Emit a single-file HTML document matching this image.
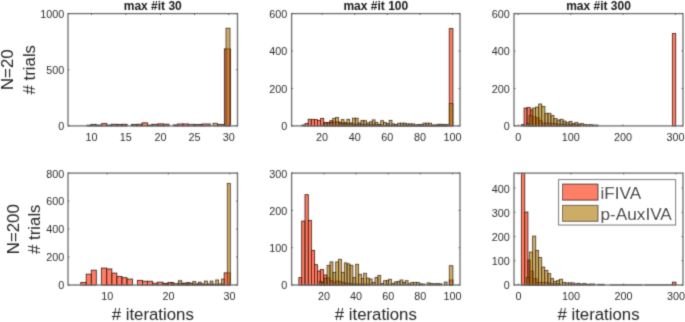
<!DOCTYPE html>
<html><head><meta charset="utf-8"><style>
html,body{margin:0;padding:0;background:#fff;width:685px;height:322px;overflow:hidden}
svg{display:block;will-change:transform}
text{font-family:"Liberation Sans", sans-serif;fill:#2c2c2c}
.tl{font-size:10.8px}
.ti{font-size:12px;font-weight:bold;fill:#1a1a1a}
.lb{font-size:16.8px;fill:#262626}
.lt{font-size:17.2px;fill:#262626}
.r{fill:rgb(255,42,0);fill-opacity:0.6;stroke:#2a1c14;stroke-width:0.85}
.y{fill:rgb(172,118,0);fill-opacity:0.6;stroke:#2a1c14;stroke-width:0.85;stroke-opacity:0.85}
.ax{fill:none;stroke:#6e6e6e;stroke-width:1.3}
.tk{fill:none;stroke:#444;stroke-width:0.8}
.lg{fill:#fff;stroke:#6e6e6e;stroke-width:1}
</style></head><body>
<svg width="685" height="322" viewBox="0 0 685 322">
<defs><filter id="bl" x="0" y="0" width="685" height="322" filterUnits="userSpaceOnUse"><feConvolveMatrix order="3" kernelMatrix="0.0225 0.1050 0.0225 0.1050 0.4900 0.1050 0.0225 0.1050 0.0225" edgeMode="duplicate"/></filter></defs>
<rect width="685" height="322" fill="#fff"/>
<g filter="url(#bl)">
<rect x="87" y="125.2" width="4" height="0.7" class="r"/>
<rect x="91" y="124.4" width="5" height="1.5" class="r"/>
<rect x="96" y="125" width="5.7" height="0.9" class="r"/>
<rect x="101.7" y="123.6" width="5" height="2.3" class="r"/>
<rect x="106.7" y="125" width="4.7" height="0.9" class="r"/>
<rect x="111.4" y="124.3" width="5.6" height="1.6" class="r"/>
<rect x="117" y="124.5" width="5" height="1.4" class="r"/>
<rect x="122" y="124.3" width="5.1" height="1.6" class="r"/>
<rect x="131.4" y="124.4" width="5.6" height="1.5" class="r"/>
<rect x="137" y="124.3" width="5" height="1.6" class="r"/>
<rect x="142" y="122.9" width="5.5" height="3" class="r"/>
<rect x="147.5" y="125" width="4.5" height="0.9" class="r"/>
<rect x="152" y="124.3" width="6" height="1.6" class="r"/>
<rect x="158" y="123.9" width="5.3" height="2" class="r"/>
<rect x="163.3" y="124.2" width="5.7" height="1.7" class="r"/>
<rect x="173.3" y="124.9" width="4.3" height="1" class="r"/>
<rect x="177.6" y="124" width="5.4" height="1.9" class="r"/>
<rect x="183" y="124" width="5.3" height="1.9" class="r"/>
<rect x="194" y="124.5" width="8" height="1.4" class="r"/>
<rect x="202" y="124" width="8.3" height="1.9" class="r"/>
<rect x="217.4" y="124.4" width="6.8" height="1.5" class="r"/>
<rect x="224.4" y="48.9" width="6" height="77" class="r"/>
<rect x="188.3" y="124.3" width="5.7" height="1.6" class="y"/>
<rect x="213" y="123.3" width="4.4" height="2.6" class="y"/>
<rect x="226" y="28.2" width="4" height="97.7" class="y"/>
<rect x="68" y="13.6" width="169.5" height="112.3" class="ax"/>
<path d="M91.5 125.9v-1.4M91.5 13.6v1.4" class="tk"/>
<path d="M125.8 125.9v-1.4M125.8 13.6v1.4" class="tk"/>
<path d="M160.5 125.9v-1.4M160.5 13.6v1.4" class="tk"/>
<path d="M194.5 125.9v-1.4M194.5 13.6v1.4" class="tk"/>
<path d="M228.7 125.9v-1.4M228.7 13.6v1.4" class="tk"/>
<path d="M68 125.9h1.4M237.5 125.9h-1.4" class="tk"/>
<path d="M68 69.75h1.4M237.5 69.75h-1.4" class="tk"/>
<path d="M68 13.6h1.4M237.5 13.6h-1.4" class="tk"/>
<text x="91.5" y="140.5" class="tl" text-anchor="middle">10</text>
<text x="125.8" y="140.5" class="tl" text-anchor="middle">15</text>
<text x="160.5" y="140.5" class="tl" text-anchor="middle">20</text>
<text x="194.5" y="140.5" class="tl" text-anchor="middle">25</text>
<text x="228.7" y="140.5" class="tl" text-anchor="middle">30</text>
<text x="64.3" y="130.3" class="tl" text-anchor="end">0</text>
<text x="64.3" y="74.15" class="tl" text-anchor="end">500</text>
<text x="64.3" y="18" class="tl" text-anchor="end">1000</text>
<rect x="302" y="125" width="3.1" height="0.9" class="r"/>
<rect x="305.1" y="123.6" width="3.1" height="2.3" class="r"/>
<rect x="308.2" y="119.3" width="3.1" height="6.6" class="r"/>
<rect x="311.3" y="119.6" width="3.1" height="6.3" class="r"/>
<rect x="314.4" y="119.6" width="3.1" height="6.3" class="r"/>
<rect x="317.5" y="120.6" width="3.1" height="5.3" class="r"/>
<rect x="320.6" y="118.4" width="3.1" height="7.5" class="r"/>
<rect x="323.7" y="122.5" width="3.1" height="3.4" class="r"/>
<rect x="326.8" y="122.5" width="3.1" height="3.4" class="r"/>
<rect x="329.9" y="120.7" width="3.1" height="5.2" class="r"/>
<rect x="333" y="121.8" width="3.1" height="4.1" class="r"/>
<rect x="336.1" y="121.8" width="3.1" height="4.1" class="r"/>
<rect x="339.2" y="122.7" width="3.1" height="3.2" class="r"/>
<rect x="342.3" y="123.6" width="3.1" height="2.3" class="r"/>
<rect x="345.4" y="123.6" width="3.1" height="2.3" class="r"/>
<rect x="348.5" y="123.8" width="3.1" height="2.1" class="r"/>
<rect x="351.6" y="124" width="3.1" height="1.9" class="r"/>
<rect x="354.7" y="124.3" width="3.1" height="1.6" class="r"/>
<rect x="357.8" y="124.3" width="3.1" height="1.6" class="r"/>
<rect x="360.9" y="124.5" width="3.1" height="1.4" class="r"/>
<rect x="364" y="124.5" width="3.1" height="1.4" class="r"/>
<rect x="367.1" y="124.6" width="3.1" height="1.3" class="r"/>
<rect x="370.2" y="124.8" width="3.1" height="1.1" class="r"/>
<rect x="373.3" y="124.8" width="3.1" height="1.1" class="r"/>
<rect x="376.4" y="125" width="3.1" height="0.9" class="r"/>
<rect x="379.5" y="125" width="3.1" height="0.9" class="r"/>
<rect x="382.6" y="125.3" width="3.1" height="0.6" class="r"/>
<rect x="385.7" y="125.3" width="3.1" height="0.6" class="r"/>
<rect x="388.8" y="125.3" width="3.1" height="0.6" class="r"/>
<rect x="391.9" y="125.3" width="3.1" height="0.6" class="r"/>
<rect x="395" y="125.3" width="3.1" height="0.6" class="r"/>
<rect x="398.1" y="125.3" width="3.1" height="0.6" class="r"/>
<rect x="401.2" y="125.3" width="3.1" height="0.6" class="r"/>
<rect x="404.3" y="125.3" width="3.1" height="0.6" class="r"/>
<rect x="407.4" y="125.3" width="3.1" height="0.6" class="r"/>
<rect x="410.5" y="125.3" width="3.1" height="0.6" class="r"/>
<rect x="413.6" y="125.3" width="3.1" height="0.6" class="r"/>
<rect x="416.7" y="125.3" width="3.1" height="0.6" class="r"/>
<rect x="419.8" y="125.3" width="3.1" height="0.6" class="r"/>
<rect x="422.9" y="125.3" width="3.1" height="0.6" class="r"/>
<rect x="426" y="125.3" width="3.1" height="0.6" class="r"/>
<rect x="429.1" y="125.3" width="3.1" height="0.6" class="r"/>
<rect x="432.2" y="125.3" width="3.1" height="0.6" class="r"/>
<rect x="435.3" y="125.3" width="3.1" height="0.6" class="r"/>
<rect x="438.4" y="125.3" width="3.1" height="0.6" class="r"/>
<rect x="441.5" y="125.3" width="3.1" height="0.6" class="r"/>
<rect x="444.6" y="125.3" width="3.1" height="0.6" class="r"/>
<rect x="449.3" y="28.6" width="3.6" height="97.3" class="r"/>
<rect x="324.3" y="122.6" width="2.82" height="3.3" class="y"/>
<rect x="327.12" y="122.6" width="2.82" height="3.3" class="y"/>
<rect x="329.94" y="122.5" width="2.82" height="3.4" class="y"/>
<rect x="332.76" y="118.4" width="2.82" height="7.5" class="y"/>
<rect x="335.58" y="117.5" width="2.82" height="8.4" class="y"/>
<rect x="338.4" y="122.4" width="2.82" height="3.5" class="y"/>
<rect x="341.22" y="119.6" width="2.82" height="6.3" class="y"/>
<rect x="344.04" y="122.5" width="2.82" height="3.4" class="y"/>
<rect x="346.86" y="119.3" width="2.82" height="6.6" class="y"/>
<rect x="349.68" y="122.9" width="2.82" height="3" class="y"/>
<rect x="352.5" y="118.2" width="2.82" height="7.7" class="y"/>
<rect x="355.32" y="118.2" width="2.82" height="7.7" class="y"/>
<rect x="358.14" y="122.9" width="2.82" height="3" class="y"/>
<rect x="360.96" y="120.4" width="2.82" height="5.5" class="y"/>
<rect x="363.78" y="120.7" width="2.82" height="5.2" class="y"/>
<rect x="366.6" y="122.9" width="2.82" height="3" class="y"/>
<rect x="369.42" y="121.8" width="2.82" height="4.1" class="y"/>
<rect x="372.24" y="119.9" width="2.82" height="6" class="y"/>
<rect x="375.06" y="122.5" width="2.82" height="3.4" class="y"/>
<rect x="377.88" y="124.3" width="2.82" height="1.6" class="y"/>
<rect x="380.7" y="120.7" width="2.82" height="5.2" class="y"/>
<rect x="383.52" y="122.5" width="2.82" height="3.4" class="y"/>
<rect x="386.34" y="123.6" width="2.82" height="2.3" class="y"/>
<rect x="389.16" y="120.4" width="2.82" height="5.5" class="y"/>
<rect x="391.98" y="123.9" width="2.82" height="2" class="y"/>
<rect x="394.8" y="124.6" width="2.82" height="1.3" class="y"/>
<rect x="397.62" y="123.2" width="2.82" height="2.7" class="y"/>
<rect x="400.44" y="123.2" width="2.82" height="2.7" class="y"/>
<rect x="403.26" y="123.2" width="2.82" height="2.7" class="y"/>
<rect x="406.08" y="123.9" width="2.82" height="2" class="y"/>
<rect x="408.9" y="123.9" width="2.82" height="2" class="y"/>
<rect x="411.72" y="123.9" width="2.82" height="2" class="y"/>
<rect x="414.54" y="124.9" width="2.82" height="1" class="y"/>
<rect x="417.36" y="124.6" width="2.82" height="1.3" class="y"/>
<rect x="420.18" y="124.6" width="2.82" height="1.3" class="y"/>
<rect x="423" y="123.2" width="2.82" height="2.7" class="y"/>
<rect x="425.82" y="123.2" width="2.82" height="2.7" class="y"/>
<rect x="428.64" y="123.2" width="2.82" height="2.7" class="y"/>
<rect x="431.46" y="125" width="2.82" height="0.9" class="y"/>
<rect x="434.28" y="125" width="2.82" height="0.9" class="y"/>
<rect x="437.1" y="124.3" width="2.82" height="1.6" class="y"/>
<rect x="439.92" y="124.3" width="2.82" height="1.6" class="y"/>
<rect x="442.74" y="124.6" width="2.82" height="1.3" class="y"/>
<rect x="445.56" y="124.6" width="2.82" height="1.3" class="y"/>
<rect x="449.3" y="103.6" width="3.6" height="22.3" class="y"/>
<rect x="291.6" y="13.6" width="168.4" height="112.3" class="ax"/>
<path d="M322 125.9v-1.4M322 13.6v1.4" class="tk"/>
<path d="M354.65 125.9v-1.4M354.65 13.6v1.4" class="tk"/>
<path d="M387.3 125.9v-1.4M387.3 13.6v1.4" class="tk"/>
<path d="M419.95 125.9v-1.4M419.95 13.6v1.4" class="tk"/>
<path d="M452.6 125.9v-1.4M452.6 13.6v1.4" class="tk"/>
<path d="M291.6 125.9h1.4M460 125.9h-1.4" class="tk"/>
<path d="M291.6 88.47h1.4M460 88.47h-1.4" class="tk"/>
<path d="M291.6 51.03h1.4M460 51.03h-1.4" class="tk"/>
<path d="M291.6 13.6h1.4M460 13.6h-1.4" class="tk"/>
<text x="322" y="140.5" class="tl" text-anchor="middle">20</text>
<text x="354.65" y="140.5" class="tl" text-anchor="middle">40</text>
<text x="387.3" y="140.5" class="tl" text-anchor="middle">60</text>
<text x="419.95" y="140.5" class="tl" text-anchor="middle">80</text>
<text x="452.6" y="140.5" class="tl" text-anchor="middle">100</text>
<text x="287.3" y="130.3" class="tl" text-anchor="end">0</text>
<text x="287.3" y="92.87" class="tl" text-anchor="end">200</text>
<text x="287.3" y="55.43" class="tl" text-anchor="end">400</text>
<text x="287.3" y="18" class="tl" text-anchor="end">600</text>
<rect x="521.3" y="124.7" width="2.8" height="1.2" class="r"/>
<rect x="524.1" y="108.1" width="2.9" height="17.8" class="r"/>
<rect x="527" y="107.6" width="3.3" height="18.3" class="r"/>
<rect x="530.3" y="110" width="2.8" height="15.9" class="r"/>
<rect x="533.1" y="116.9" width="3.2" height="9" class="r"/>
<rect x="536.3" y="117.9" width="2.9" height="8" class="r"/>
<rect x="539.2" y="120.7" width="3" height="5.2" class="r"/>
<rect x="542.2" y="123.1" width="3.1" height="2.8" class="r"/>
<rect x="545.3" y="123.1" width="5.7" height="2.8" class="r"/>
<rect x="551" y="123.6" width="6" height="2.3" class="r"/>
<rect x="557" y="124.2" width="9" height="1.7" class="r"/>
<rect x="566" y="124.8" width="14" height="1.1" class="r"/>
<rect x="672.4" y="33.6" width="3.3" height="92.3" class="r"/>
<rect x="526.3" y="123.9" width="2.8" height="2" class="y"/>
<rect x="529.1" y="115.7" width="3.2" height="10.2" class="y"/>
<rect x="532.3" y="108.1" width="3.3" height="17.8" class="y"/>
<rect x="535.6" y="107.1" width="3.1" height="18.8" class="y"/>
<rect x="538.7" y="104" width="3" height="21.9" class="y"/>
<rect x="541.7" y="106.4" width="3.2" height="19.5" class="y"/>
<rect x="544.9" y="113.3" width="3.1" height="12.6" class="y"/>
<rect x="548" y="113.3" width="2.9" height="12.6" class="y"/>
<rect x="550.9" y="115.4" width="3" height="10.5" class="y"/>
<rect x="553.9" y="118.6" width="3.1" height="7.3" class="y"/>
<rect x="557" y="120" width="3.1" height="5.9" class="y"/>
<rect x="560.1" y="119.3" width="3" height="6.6" class="y"/>
<rect x="563.1" y="121.1" width="2.9" height="4.8" class="y"/>
<rect x="566" y="122.6" width="3.1" height="3.3" class="y"/>
<rect x="569.1" y="121.4" width="2.9" height="4.5" class="y"/>
<rect x="572" y="123.6" width="2.9" height="2.3" class="y"/>
<rect x="574.9" y="122.6" width="3.1" height="3.3" class="y"/>
<rect x="578" y="124" width="2.9" height="1.9" class="y"/>
<rect x="580.9" y="123.6" width="2.5" height="2.3" class="y"/>
<rect x="583.4" y="124.6" width="3" height="1.3" class="y"/>
<rect x="586.4" y="124.8" width="3" height="1.1" class="y"/>
<rect x="589.4" y="124.7" width="3" height="1.2" class="y"/>
<rect x="592.4" y="125" width="5.6" height="0.9" class="y"/>
<rect x="514" y="13.6" width="169" height="112.3" class="ax"/>
<path d="M518.3 125.9v-1.4M518.3 13.6v1.4" class="tk"/>
<path d="M570.67 125.9v-1.4M570.67 13.6v1.4" class="tk"/>
<path d="M623.04 125.9v-1.4M623.04 13.6v1.4" class="tk"/>
<path d="M675.41 125.9v-1.4M675.41 13.6v1.4" class="tk"/>
<path d="M514 125.9h1.4M683 125.9h-1.4" class="tk"/>
<path d="M514 88.47h1.4M683 88.47h-1.4" class="tk"/>
<path d="M514 51.03h1.4M683 51.03h-1.4" class="tk"/>
<path d="M514 13.6h1.4M683 13.6h-1.4" class="tk"/>
<text x="518.3" y="140.5" class="tl" text-anchor="middle">0</text>
<text x="570.67" y="140.5" class="tl" text-anchor="middle">100</text>
<text x="623.04" y="140.5" class="tl" text-anchor="middle">200</text>
<text x="675.41" y="140.5" class="tl" text-anchor="middle">300</text>
<text x="509.8" y="130.3" class="tl" text-anchor="end">0</text>
<text x="509.8" y="92.87" class="tl" text-anchor="end">200</text>
<text x="509.8" y="55.43" class="tl" text-anchor="end">400</text>
<text x="509.8" y="18" class="tl" text-anchor="end">600</text>
<rect x="80.8" y="282.5" width="5.4" height="2.5" class="r"/>
<rect x="86.2" y="274.2" width="5.1" height="10.8" class="r"/>
<rect x="91.3" y="270.2" width="5" height="14.8" class="r"/>
<rect x="101.4" y="268.1" width="5.3" height="16.9" class="r"/>
<rect x="106.7" y="269" width="5.1" height="16" class="r"/>
<rect x="111.8" y="273.1" width="5" height="11.9" class="r"/>
<rect x="116.8" y="276.5" width="5.1" height="8.5" class="r"/>
<rect x="121.9" y="277.7" width="5.1" height="7.3" class="r"/>
<rect x="127" y="279.1" width="5.5" height="5.9" class="r"/>
<rect x="137.4" y="280.4" width="5.2" height="4.6" class="r"/>
<rect x="142.6" y="281.3" width="4.9" height="3.7" class="r"/>
<rect x="147.5" y="281.3" width="5" height="3.7" class="r"/>
<rect x="152.5" y="283.2" width="5.1" height="1.8" class="r"/>
<rect x="157.6" y="282.2" width="5.4" height="2.8" class="r"/>
<rect x="163" y="283.5" width="5" height="1.5" class="r"/>
<rect x="168" y="282.5" width="5" height="2.5" class="r"/>
<rect x="173" y="283.8" width="5" height="1.2" class="r"/>
<rect x="178" y="283.2" width="5" height="1.8" class="r"/>
<rect x="183" y="283.6" width="5" height="1.4" class="r"/>
<rect x="188" y="283.3" width="5" height="1.7" class="r"/>
<rect x="193" y="284" width="5" height="1" class="r"/>
<rect x="198" y="283.8" width="5" height="1.2" class="r"/>
<rect x="203" y="284.2" width="5" height="0.8" class="r"/>
<rect x="208" y="284" width="5" height="1" class="r"/>
<rect x="213" y="284.3" width="5" height="0.7" class="r"/>
<rect x="218" y="284" width="6.2" height="1" class="r"/>
<rect x="224.2" y="272.9" width="6.1" height="12.1" class="r"/>
<rect x="165" y="283.3" width="3" height="1.7" class="y"/>
<rect x="171" y="282.8" width="3" height="2.2" class="y"/>
<rect x="178.4" y="280.7" width="3.4" height="4.3" class="y"/>
<rect x="184" y="283" width="3" height="2" class="y"/>
<rect x="187" y="282.5" width="3" height="2.5" class="y"/>
<rect x="192.7" y="281.6" width="3.1" height="3.4" class="y"/>
<rect x="198.4" y="282.2" width="2.8" height="2.8" class="y"/>
<rect x="204.3" y="281.1" width="3.2" height="3.9" class="y"/>
<rect x="210.2" y="281.1" width="2.7" height="3.9" class="y"/>
<rect x="215.7" y="280" width="2.9" height="5" class="y"/>
<rect x="221.4" y="279.1" width="2.8" height="5.9" class="y"/>
<rect x="227.3" y="183.4" width="3" height="101.6" class="y"/>
<rect x="68" y="173.1" width="169.5" height="111.9" class="ax"/>
<path d="M107.2 285v-1.4M107.2 173.1v1.4" class="tk"/>
<path d="M168.4 285v-1.4M168.4 173.1v1.4" class="tk"/>
<path d="M229.6 285v-1.4M229.6 173.1v1.4" class="tk"/>
<path d="M68 285h1.4M237.5 285h-1.4" class="tk"/>
<path d="M68 257.02h1.4M237.5 257.02h-1.4" class="tk"/>
<path d="M68 229.05h1.4M237.5 229.05h-1.4" class="tk"/>
<path d="M68 201.07h1.4M237.5 201.07h-1.4" class="tk"/>
<path d="M68 173.1h1.4M237.5 173.1h-1.4" class="tk"/>
<text x="107.2" y="299.6" class="tl" text-anchor="middle">10</text>
<text x="168.4" y="299.6" class="tl" text-anchor="middle">20</text>
<text x="229.6" y="299.6" class="tl" text-anchor="middle">30</text>
<text x="64.3" y="289.4" class="tl" text-anchor="end">0</text>
<text x="64.3" y="261.42" class="tl" text-anchor="end">200</text>
<text x="64.3" y="233.45" class="tl" text-anchor="end">400</text>
<text x="64.3" y="205.47" class="tl" text-anchor="end">600</text>
<text x="64.3" y="177.5" class="tl" text-anchor="end">800</text>
<rect x="298.9" y="277.6" width="2.8" height="7.4" class="r"/>
<rect x="301.7" y="221.1" width="3.3" height="63.9" class="r"/>
<rect x="305" y="194.7" width="3.3" height="90.3" class="r"/>
<rect x="308.3" y="220.4" width="3.1" height="64.6" class="r"/>
<rect x="311.4" y="250.4" width="3.2" height="34.6" class="r"/>
<rect x="314.6" y="264.7" width="2.8" height="20.3" class="r"/>
<rect x="317.4" y="271.1" width="2.9" height="13.9" class="r"/>
<rect x="320.3" y="269.6" width="3.3" height="15.4" class="r"/>
<rect x="323.6" y="275" width="3.3" height="10" class="r"/>
<rect x="326.9" y="277.9" width="3.1" height="7.1" class="r"/>
<rect x="330" y="280.5" width="3" height="4.5" class="r"/>
<rect x="333" y="282" width="3" height="3" class="r"/>
<rect x="336" y="281" width="3" height="4" class="r"/>
<rect x="339" y="281.5" width="3" height="3.5" class="r"/>
<rect x="342" y="282.5" width="3" height="2.5" class="r"/>
<rect x="345" y="283.3" width="7" height="1.7" class="r"/>
<rect x="352" y="284" width="18" height="1" class="r"/>
<rect x="449.3" y="280" width="3.6" height="5" class="r"/>
<rect x="319.3" y="281.4" width="2.4" height="3.6" class="y"/>
<rect x="321.7" y="282.4" width="2.6" height="2.6" class="y"/>
<rect x="324.3" y="278.1" width="2.6" height="6.9" class="y"/>
<rect x="327.1" y="265.4" width="2.9" height="19.6" class="y"/>
<rect x="330" y="261.9" width="2.9" height="23.1" class="y"/>
<rect x="332.9" y="272.4" width="2.8" height="12.6" class="y"/>
<rect x="335.7" y="261.9" width="2.9" height="23.1" class="y"/>
<rect x="338.6" y="259.3" width="2.8" height="25.7" class="y"/>
<rect x="341.4" y="272.4" width="2.9" height="12.6" class="y"/>
<rect x="344.3" y="262.9" width="2.8" height="22.1" class="y"/>
<rect x="347.1" y="263.9" width="2.9" height="21.1" class="y"/>
<rect x="350" y="265.3" width="2.9" height="19.7" class="y"/>
<rect x="352.9" y="277.6" width="2.8" height="7.4" class="y"/>
<rect x="355.7" y="264.3" width="2.9" height="20.7" class="y"/>
<rect x="358.6" y="274.3" width="2.8" height="10.7" class="y"/>
<rect x="361.4" y="278.6" width="2.2" height="6.4" class="y"/>
<rect x="363.6" y="273.3" width="2.8" height="11.7" class="y"/>
<rect x="366.4" y="278.1" width="2.9" height="6.9" class="y"/>
<rect x="369.3" y="279" width="2.8" height="6" class="y"/>
<rect x="372.1" y="282.4" width="2.9" height="2.6" class="y"/>
<rect x="375" y="277.6" width="2.9" height="7.4" class="y"/>
<rect x="377.9" y="275.4" width="2.8" height="9.6" class="y"/>
<rect x="380.7" y="283.6" width="2.9" height="1.4" class="y"/>
<rect x="383.6" y="280.7" width="2.8" height="4.3" class="y"/>
<rect x="386.4" y="280.4" width="2.2" height="4.6" class="y"/>
<rect x="388.6" y="279.3" width="2.8" height="5.7" class="y"/>
<rect x="391.4" y="283.5" width="2.9" height="1.5" class="y"/>
<rect x="394.3" y="281.9" width="2.8" height="3.1" class="y"/>
<rect x="397.1" y="281.4" width="2.9" height="3.6" class="y"/>
<rect x="400" y="280" width="2.9" height="5" class="y"/>
<rect x="402.9" y="282.4" width="2.4" height="2.6" class="y"/>
<rect x="405.3" y="280.7" width="2.8" height="4.3" class="y"/>
<rect x="408.1" y="283.8" width="2.6" height="1.2" class="y"/>
<rect x="410.7" y="282.6" width="2.9" height="2.4" class="y"/>
<rect x="413.6" y="282.4" width="2.8" height="2.6" class="y"/>
<rect x="416.4" y="282.4" width="2.9" height="2.6" class="y"/>
<rect x="419.3" y="283.9" width="2.7" height="1.1" class="y"/>
<rect x="422" y="284" width="3" height="1" class="y"/>
<rect x="427" y="282.9" width="3" height="2.1" class="y"/>
<rect x="430" y="283.6" width="3" height="1.4" class="y"/>
<rect x="433" y="283.8" width="3" height="1.2" class="y"/>
<rect x="436" y="283.6" width="3" height="1.4" class="y"/>
<rect x="439" y="283.8" width="3" height="1.2" class="y"/>
<rect x="444.3" y="282.1" width="2.8" height="2.9" class="y"/>
<rect x="449.3" y="265.7" width="3.6" height="19.3" class="y"/>
<rect x="291.6" y="173.1" width="168.4" height="111.9" class="ax"/>
<path d="M323.94 285v-1.4M323.94 173.1v1.4" class="tk"/>
<path d="M356.08 285v-1.4M356.08 173.1v1.4" class="tk"/>
<path d="M388.22 285v-1.4M388.22 173.1v1.4" class="tk"/>
<path d="M420.36 285v-1.4M420.36 173.1v1.4" class="tk"/>
<path d="M452.5 285v-1.4M452.5 173.1v1.4" class="tk"/>
<path d="M291.6 285h1.4M460 285h-1.4" class="tk"/>
<path d="M291.6 247.7h1.4M460 247.7h-1.4" class="tk"/>
<path d="M291.6 210.4h1.4M460 210.4h-1.4" class="tk"/>
<path d="M291.6 173.1h1.4M460 173.1h-1.4" class="tk"/>
<text x="323.94" y="299.6" class="tl" text-anchor="middle">20</text>
<text x="356.08" y="299.6" class="tl" text-anchor="middle">40</text>
<text x="388.22" y="299.6" class="tl" text-anchor="middle">60</text>
<text x="420.36" y="299.6" class="tl" text-anchor="middle">80</text>
<text x="452.5" y="299.6" class="tl" text-anchor="middle">100</text>
<text x="287.3" y="289.4" class="tl" text-anchor="end">0</text>
<text x="287.3" y="252.1" class="tl" text-anchor="end">100</text>
<text x="287.3" y="214.8" class="tl" text-anchor="end">200</text>
<text x="287.3" y="177.5" class="tl" text-anchor="end">300</text>
<rect x="521.4" y="173.3" width="3.3" height="111.7" class="r"/>
<rect x="524.7" y="212.1" width="3.2" height="72.9" class="r"/>
<rect x="527.9" y="260" width="2.4" height="25" class="r"/>
<rect x="530.3" y="271.1" width="3" height="13.9" class="r"/>
<rect x="533.3" y="278.6" width="3.7" height="6.4" class="r"/>
<rect x="537" y="282.4" width="12" height="2.6" class="r"/>
<rect x="549" y="283.8" width="11" height="1.2" class="r"/>
<rect x="672.4" y="282.2" width="3.4" height="2.8" class="r"/>
<rect x="526.4" y="277.6" width="2.9" height="7.4" class="y"/>
<rect x="529.3" y="252.1" width="3.3" height="32.9" class="y"/>
<rect x="532.6" y="236.1" width="3.1" height="48.9" class="y"/>
<rect x="535.7" y="250.4" width="2.9" height="34.6" class="y"/>
<rect x="538.6" y="257.6" width="3.1" height="27.4" class="y"/>
<rect x="541.7" y="267.1" width="3" height="17.9" class="y"/>
<rect x="544.7" y="270.4" width="3.2" height="14.6" class="y"/>
<rect x="547.9" y="273.6" width="2.8" height="11.4" class="y"/>
<rect x="550.7" y="278.6" width="2.9" height="6.4" class="y"/>
<rect x="553.6" y="281.4" width="2.8" height="3.6" class="y"/>
<rect x="556.4" y="280.7" width="2.9" height="4.3" class="y"/>
<rect x="559.3" y="279.3" width="3.3" height="5.7" class="y"/>
<rect x="562.6" y="282.4" width="2.8" height="2.6" class="y"/>
<rect x="565.4" y="282.9" width="3.2" height="2.1" class="y"/>
<rect x="568.6" y="282.9" width="2.8" height="2.1" class="y"/>
<rect x="571.4" y="282.9" width="2.9" height="2.1" class="y"/>
<rect x="574.3" y="283.9" width="2.8" height="1.1" class="y"/>
<rect x="577.1" y="283.3" width="2.9" height="1.7" class="y"/>
<rect x="580" y="284" width="3" height="1" class="y"/>
<rect x="583" y="283.6" width="3" height="1.4" class="y"/>
<rect x="586" y="284.2" width="4" height="0.8" class="y"/>
<rect x="590" y="284" width="5" height="1" class="y"/>
<rect x="597.7" y="284.3" width="6.6" height="0.7" class="y"/>
<rect x="610.4" y="284.9" width="31.6" height="0.1" class="y"/>
<rect x="645" y="284.9" width="27" height="0.1" class="y"/>
<rect x="514" y="173.1" width="169" height="111.9" class="ax"/>
<path d="M518.6 285v-1.4M518.6 173.1v1.4" class="tk"/>
<path d="M571.1 285v-1.4M571.1 173.1v1.4" class="tk"/>
<path d="M623.6 285v-1.4M623.6 173.1v1.4" class="tk"/>
<path d="M676.1 285v-1.4M676.1 173.1v1.4" class="tk"/>
<path d="M514 285h1.4M683 285h-1.4" class="tk"/>
<path d="M514 260.78h1.4M683 260.78h-1.4" class="tk"/>
<path d="M514 236.56h1.4M683 236.56h-1.4" class="tk"/>
<path d="M514 212.34h1.4M683 212.34h-1.4" class="tk"/>
<path d="M514 188.12h1.4M683 188.12h-1.4" class="tk"/>
<text x="518.6" y="299.6" class="tl" text-anchor="middle">0</text>
<text x="571.1" y="299.6" class="tl" text-anchor="middle">100</text>
<text x="623.6" y="299.6" class="tl" text-anchor="middle">200</text>
<text x="676.1" y="299.6" class="tl" text-anchor="middle">300</text>
<text x="509.8" y="289.4" class="tl" text-anchor="end">0</text>
<text x="509.8" y="265.18" class="tl" text-anchor="end">100</text>
<text x="509.8" y="240.96" class="tl" text-anchor="end">200</text>
<text x="509.8" y="216.74" class="tl" text-anchor="end">300</text>
<text x="509.8" y="192.52" class="tl" text-anchor="end">400</text>
<text x="152.75" y="9.8" class="ti" text-anchor="middle">max #it 30</text>
<text x="375.8" y="9.8" class="ti" text-anchor="middle">max #it 100</text>
<text x="598.5" y="9.8" class="ti" text-anchor="middle">max #it 300</text>
<text x="152.75" y="319.9" class="lb" text-anchor="middle"># iterations</text>
<text x="375.8" y="319.9" class="lb" text-anchor="middle"># iterations</text>
<text x="598.5" y="319.9" class="lb" text-anchor="middle"># iterations</text>
<text transform="translate(13.3 69.7) rotate(-90)" class="lb" text-anchor="middle">N=20</text>
<text transform="translate(34.6 69.7) rotate(-90)" class="lb" text-anchor="middle"># trials</text>
<text transform="translate(18.7 229.2) rotate(-90)" class="lb" text-anchor="middle">N=200</text>
<text transform="translate(40 229.2) rotate(-90)" class="lb" text-anchor="middle"># trials</text>
<rect x="558.6" y="179.6" width="117" height="45.4" class="lg"/>
<rect x="562.5" y="184.1" width="35.5" height="16" class="r"/>
<rect x="562.5" y="205.3" width="35.5" height="16" class="y"/>
<text x="600.5" y="198.8" class="lt">iFIVA</text>
<text x="600.5" y="219.8" class="lt">p-AuxIVA</text>
</g>
</svg>
</body></html>
